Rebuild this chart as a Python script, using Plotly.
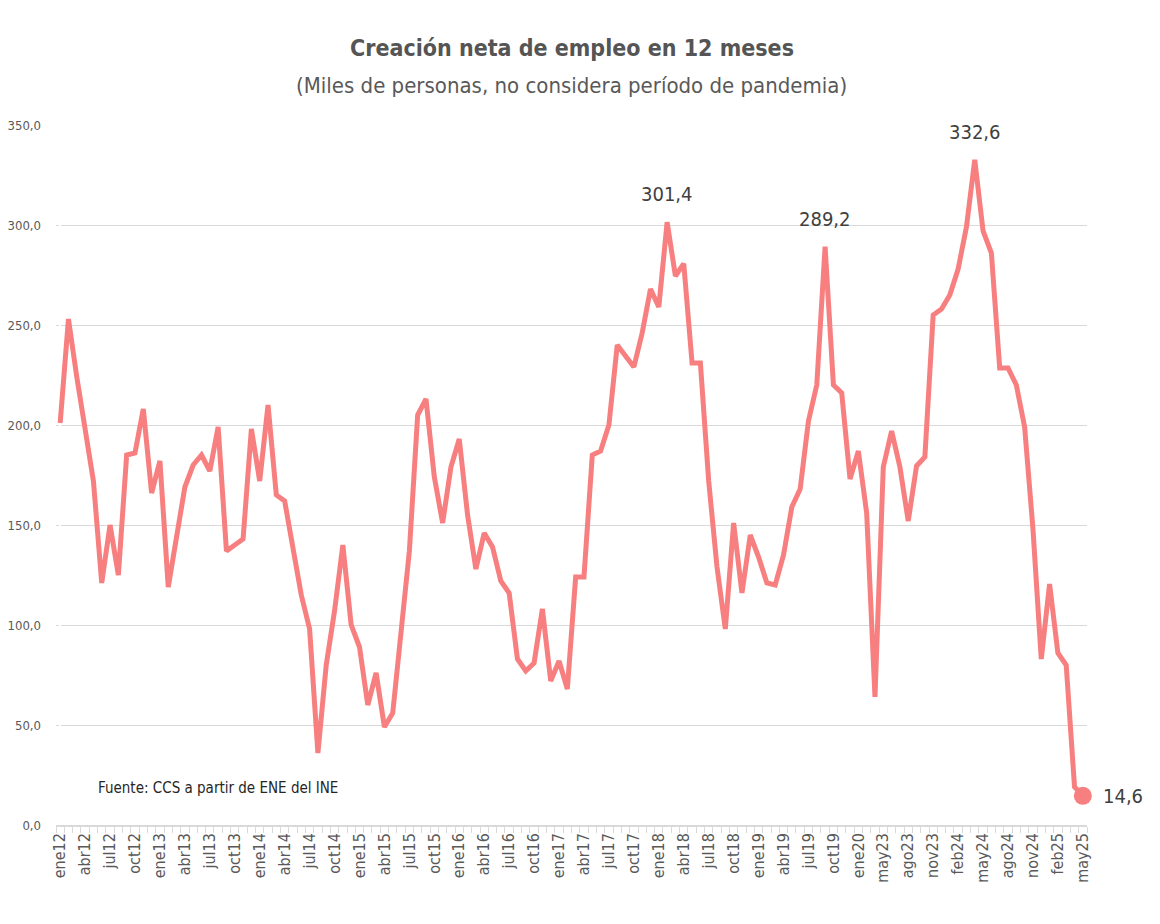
import plotly.graph_objects as go

# meses mostrados (sin pandemia: se salta de mar20 a may23)
meses = ["ene", "feb", "mar", "abr", "may", "jun", "jul", "ago", "sep", "oct", "nov", "dic"]
periodos = [f"{m}{a}" for a in range(12, 20) for m in meses]
periodos += ["ene20", "feb20", "mar20"]
periodos += [f"{m}23" for m in meses[4:]]
periodos += [f"{m}24" for m in meses]
periodos += [f"{m}25" for m in meses[:5]]

# miles de personas, variación en 12 meses
empleo = [
    201, 253, 224, 198, 172, 121, 150, 125, 185, 186, 208, 166,
    182, 119, 146, 169, 180, 185, 177, 199, 137, 140, 143, 198,
    172, 210, 165, 162, 138, 115, 98, 36, 80, 107, 140, 100,
    89, 60, 76, 49, 56, 96, 137, 205, 213, 174, 151, 179,
    193, 155, 128, 146, 139, 122, 116, 83, 77, 81, 108, 72,
    82, 68, 124, 124, 185, 187, 200, 240, 234, 229, 246, 268,
    259, 301.4, 274.5, 280.7, 231, 231, 172, 129, 98, 151, 116, 145,
    134, 121, 120, 135, 159, 168, 202, 220, 289.2, 220, 216, 173,
    187, 156, 64,
    179, 197, 179, 152, 179.5, 184, 255, 258,
    265, 278, 299, 332.6, 297, 286, 228.5, 228.5, 220, 199, 148, 83,
    120.5, 86, 80, 19, 14.6,
]

destacados = ["feb18", "sep19", "abr24"]

color_linea = "#F77F7F"
fuente = "Liberation Sans Narrow, DejaVu Sans Condensed, Roboto, sans-serif"

x = list(range(len(periodos)))

fig = go.Figure()
fig.add_trace(go.Scatter(
    x=x,
    y=empleo,
    mode="lines",
    line=dict(color=color_linea, width=5),
    hoverinfo="skip",
))
fig.add_trace(go.Scatter(
    x=[x[-1]],
    y=[empleo[-1]],
    mode="markers",
    marker=dict(color=color_linea, size=18),
    hoverinfo="skip",
    cliponaxis=False,
))

def fmt(v):
    return f"{v:.1f}".replace(".", ",")

for p in destacados:
    i = periodos.index(p)
    fig.add_annotation(
        x=x[i], y=empleo[i], text=fmt(empleo[i]), showarrow=False,
        yanchor="bottom", yshift=14,
        font=dict(family=fuente, size=20, color="#404040"),
    )

fig.add_annotation(
    x=x[-1], y=empleo[-1], text=fmt(empleo[-1]), showarrow=False,
    xanchor="left", xshift=18,
    font=dict(family=fuente, size=20, color="#404040"),
)

# la página deja 8 px de margen, por eso la figura es algo más chica
fig.add_annotation(
    xref="paper", yref="paper", x=0.5, y=1.11, yanchor="middle",
    text="<b>Creación neta de empleo en 12 meses</b>", showarrow=False,
    font=dict(family=fuente, size=23, color="#555555"),
)
fig.add_annotation(
    xref="paper", yref="paper", x=0.5, y=1.057, yanchor="middle",
    text="(Miles de personas, no considera período de pandemia)", showarrow=False,
    font=dict(family=fuente, size=22, color="#595959"),
)
fig.add_annotation(
    xref="paper", yref="paper", x=0.039, y=0.053, xanchor="left", yanchor="middle",
    text="Fuente: CCS a partir de ENE del INE", showarrow=False,
    font=dict(family=fuente, size=15, color="#262626"),
)

fig.update_layout(
    width=1152,
    height=916,
    margin=dict(l=48, r=73, t=117, b=99),
    paper_bgcolor="white",
    plot_bgcolor="white",
    showlegend=False,
    separators=",.",
    font=dict(family=fuente, color="#595959"),
)
fig.update_xaxes(
    range=[-0.5, len(periodos) - 0.5],
    tickmode="array",
    tickvals=x[::3],
    ticktext=periodos[::3],
    tickangle=-90,
    ticks="",
    showgrid=False,
    showline=True,
    linecolor="#d9d9d9",
    linewidth=1.5,
    tickfont=dict(size=16, color="#595959"),
    minor=dict(ticks="outside", tick0=-0.5, dtick=1, ticklen=6, tickcolor="#d9d9d9", showgrid=False),
    automargin=False,
)
fig.update_yaxes(
    range=[0, 350],
    dtick=50,
    tickformat=".1f",
    showgrid=True,
    gridcolor="#d9d9d9",
    zeroline=False,
    tickfont=dict(size=13, color="#595959"),
    ticklabelstandoff=14,
    automargin=False,
)

fig.write_html("out.html")
